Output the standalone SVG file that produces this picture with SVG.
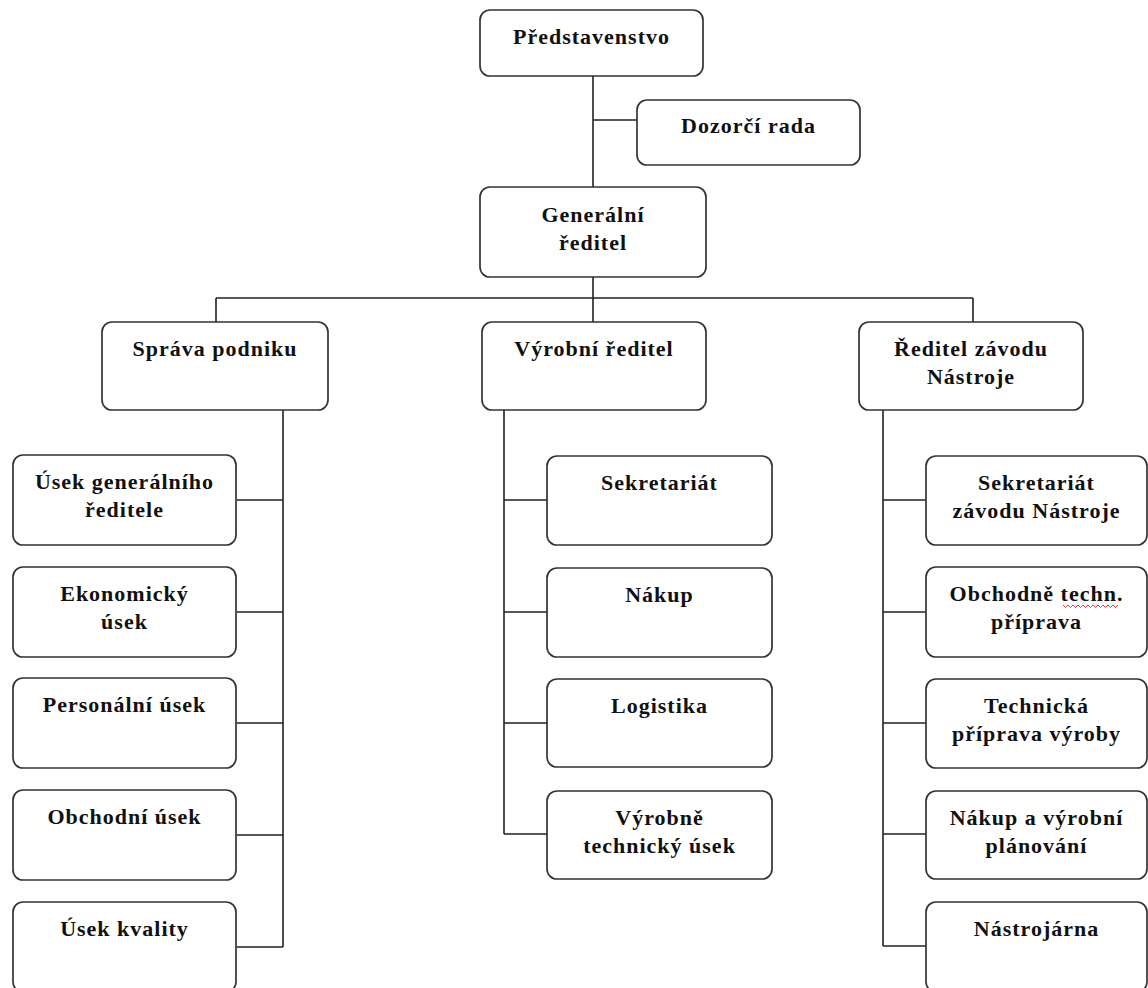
<svg xmlns="http://www.w3.org/2000/svg" width="1148" height="988" viewBox="0 0 1148 988">
<style>
.box{fill:#fff;stroke:#333;stroke-width:1.7}
.t{font-family:"Liberation Serif","Times New Roman",serif;font-weight:bold;font-size:22px;letter-spacing:1px;fill:#111;text-anchor:middle}
.c{fill:none;stroke:#222;stroke-width:1.6}
</style>
<rect width="1148" height="988" fill="#fff"/>
<g id="connectors">
<path class="c" d="M593 76V187M593 120H637M593 277V322M216 298H973M216 298V322M973 298V322"/>
<path class="c" d="M283 410V947M237 500H283M237 612H283M237 723H283M237 835H283M237 947H283"/>
<path class="c" d="M504 410V834M504 500H547M504 612H547M504 723H547M504 834H547"/>
<path class="c" d="M883 410V946M883 500H926M883 612H926M883 723H926M883 834H926M883 946H926"/>
</g>
<g id="predstavenstvo"><rect class="box" x="480" y="10" width="223" height="66" rx="10"/><text class="t" x="591.5" y="44">Představenstvo</text></g>
<g id="dozorci-rada"><rect class="box" x="637" y="100" width="223" height="65" rx="10"/><text class="t" x="748.5" y="133">Dozorčí rada</text></g>
<g id="generalni-reditel"><rect class="box" x="480" y="187" width="226" height="90" rx="10"/><text class="t" x="593" y="222">Generální</text><text class="t" x="593" y="250">ředitel</text></g>
<g id="sprava-podniku"><rect class="box" x="102" y="322" width="226" height="88" rx="10"/><text class="t" x="215" y="356">Správa podniku</text></g>
<g id="vyrobni-reditel"><rect class="box" x="482" y="322" width="224" height="88" rx="10"/><text class="t" x="594" y="356">Výrobní ředitel</text></g>
<g id="reditel-zavodu"><rect class="box" x="859" y="322" width="224" height="88" rx="10"/><text class="t" x="971" y="356">Ředitel závodu</text><text class="t" x="971" y="384">Nástroje</text></g>
<g id="usek-gen-reditele"><rect class="box" x="13" y="455" width="223" height="90" rx="10"/><text class="t" x="124.5" y="489">Úsek generálního</text><text class="t" x="124.5" y="517">ředitele</text></g>
<g id="ekonomicky-usek"><rect class="box" x="13" y="567" width="223" height="90" rx="10"/><text class="t" x="124.5" y="601">Ekonomický</text><text class="t" x="124.5" y="629">úsek</text></g>
<g id="personalni-usek"><rect class="box" x="13" y="678" width="223" height="90" rx="10"/><text class="t" x="124.5" y="712">Personální úsek</text></g>
<g id="obchodni-usek"><rect class="box" x="13" y="790" width="223" height="90" rx="10"/><text class="t" x="124.5" y="824">Obchodní úsek</text></g>
<g id="usek-kvality"><rect class="box" x="13" y="902" width="223" height="90" rx="10"/><text class="t" x="124.5" y="936">Úsek kvality</text></g>
<g id="sekretariat"><rect class="box" x="547" y="456" width="225" height="89" rx="10"/><text class="t" x="659.5" y="490">Sekretariát</text></g>
<g id="nakup"><rect class="box" x="547" y="568" width="225" height="89" rx="10"/><text class="t" x="659.5" y="602">Nákup</text></g>
<g id="logistika"><rect class="box" x="547" y="679" width="225" height="88" rx="10"/><text class="t" x="659.5" y="713">Logistika</text></g>
<g id="vyrobne-technicky"><rect class="box" x="547" y="791" width="225" height="88" rx="10"/><text class="t" x="659.5" y="825">Výrobně</text><text class="t" x="659.5" y="853">technický úsek</text></g>
<g id="sekretariat-zavodu"><rect class="box" x="926" y="456" width="221" height="89" rx="10"/><text class="t" x="1036.5" y="490">Sekretariát</text><text class="t" x="1036.5" y="518">závodu Nástroje</text></g>
<g id="obchodne-techn"><rect class="box" x="926" y="567" width="221" height="90" rx="10"/><text class="t" x="1036.5" y="601">Obchodně techn.</text><text class="t" x="1036.5" y="629">příprava</text><path d="M1063 605l2.5 2.5 2.5-2.5 2.5 2.5 2.5-2.5 2.5 2.5 2.5-2.5 2.5 2.5 2.5-2.5 2.5 2.5 2.5-2.5 2.5 2.5 2.5-2.5 2.5 2.5 2.5-2.5 2.5 2.5 2.5-2.5 2.5 2.5 2.5-2.5 2.5 2.5 2.5-2.5 2.5 2.5 2.5-2.5" fill="none" stroke="#e33" stroke-width="1"/></g>
<g id="technicka-priprava"><rect class="box" x="926" y="679" width="221" height="89" rx="10"/><text class="t" x="1036.5" y="713">Technická</text><text class="t" x="1036.5" y="741">příprava výroby</text></g>
<g id="nakup-planovani"><rect class="box" x="926" y="791" width="221" height="88" rx="10"/><text class="t" x="1036.5" y="825">Nákup a výrobní</text><text class="t" x="1036.5" y="853">plánování</text></g>
<g id="nastrojarna"><rect class="box" x="926" y="902" width="221" height="90" rx="10"/><text class="t" x="1036.5" y="936">Nástrojárna</text></g>
</svg>
